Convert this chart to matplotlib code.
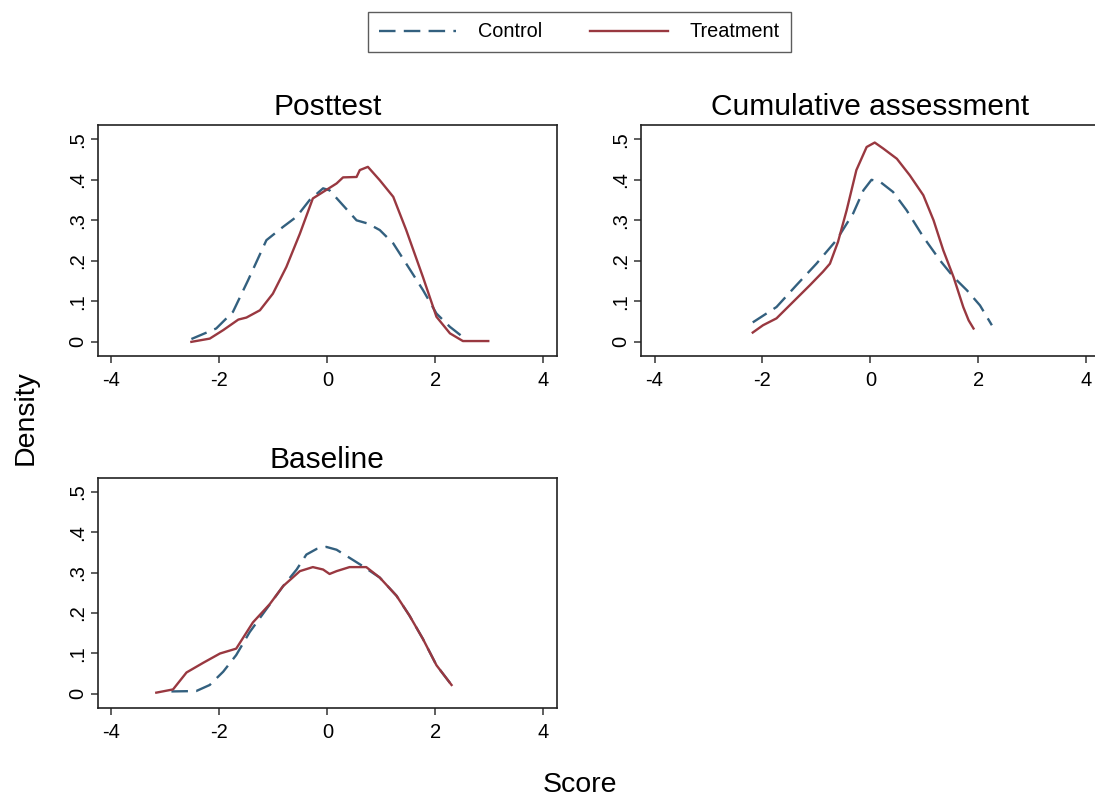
import matplotlib

matplotlib.use("Agg")
import matplotlib.pyplot as plt

plt.rcParams["font.family"] = ["Liberation Sans", "DejaVu Sans"]

# Posttest densities
post_ctrl_x = [-2.52, -2.06, -1.75, -1.47, -1.13, -0.82, -0.57, -0.33, -0.08, 0.04,
               0.29, 0.54, 0.75, 0.97, 1.22, 1.46, 1.77, 2.02, 2.27, 2.51]
post_ctrl_y = [0.007, 0.033, 0.074, 0.152, 0.251, 0.284, 0.309, 0.350, 0.379, 0.374,
               0.337, 0.300, 0.292, 0.276, 0.243, 0.193, 0.128, 0.070, 0.037, 0.012]
post_trt_x = [-2.52, -2.18, -1.93, -1.65, -1.50, -1.25, -1.01, -0.76, -0.51, -0.27,
              -0.08, 0.17, 0.29, 0.54, 0.60, 0.75, 0.97, 1.22, 1.46, 1.77, 2.02,
              2.27, 2.51, 2.98]
post_trt_y = [0.000, 0.008, 0.029, 0.055, 0.060, 0.078, 0.119, 0.185, 0.267, 0.354,
              0.370, 0.391, 0.406, 0.407, 0.424, 0.432, 0.399, 0.358, 0.276, 0.160,
              0.062, 0.021, 0.002, 0.002]

# Cumulative assessment densities
cum_ctrl_x = [-2.18, -1.74, -1.37, -1.00, -0.63, -0.32, -0.13, 0.02, 0.18, 0.42,
              0.67, 0.98, 1.29, 1.54, 1.79, 2.03, 2.25]
cum_ctrl_y = [0.048, 0.086, 0.140, 0.193, 0.251, 0.317, 0.374, 0.400, 0.395, 0.370,
              0.325, 0.259, 0.201, 0.160, 0.127, 0.090, 0.041]
cum_trt_x = [-2.18, -1.99, -1.74, -1.43, -1.12, -0.88, -0.75, -0.60, -0.44, -0.26,
             -0.07, 0.08, 0.24, 0.49, 0.73, 0.98, 1.17, 1.35, 1.54, 1.72, 1.82, 1.91]
cum_trt_y = [0.023, 0.041, 0.058, 0.099, 0.140, 0.173, 0.193, 0.247, 0.325, 0.424,
             0.481, 0.492, 0.477, 0.452, 0.411, 0.362, 0.300, 0.226, 0.160, 0.086,
             0.053, 0.033]

# Baseline densities
base_ctrl_x = [-2.89, -2.43, -2.18, -1.93, -1.69, -1.44, -1.13, -0.82, -0.57, -0.39,
               -0.20, -0.02, 0.17, 0.41, 0.66, 0.97, 1.28, 1.52, 1.77, 2.02, 2.30]
base_ctrl_y = [0.006, 0.007, 0.022, 0.055, 0.096, 0.153, 0.210, 0.267, 0.308, 0.345,
               0.359, 0.364, 0.357, 0.337, 0.316, 0.288, 0.243, 0.194, 0.136, 0.071,
               0.022]
base_trt_x = [-3.17, -2.86, -2.61, -2.30, -1.99, -1.69, -1.38, -1.07, -0.82, -0.51,
              -0.27, -0.08, 0.04, 0.17, 0.41, 0.72, 0.97, 1.28, 1.52, 1.77, 2.02, 2.30]
base_trt_y = [0.003, 0.011, 0.053, 0.077, 0.100, 0.112, 0.177, 0.222, 0.267, 0.304,
              0.314, 0.308, 0.297, 0.304, 0.314, 0.314, 0.288, 0.243, 0.194, 0.136,
              0.071, 0.022]

x_ticks = [-4, -2, 0, 2, 4]
y_ticks = [0, 0.1, 0.2, 0.3, 0.4, 0.5]
y_ticklabels = ["0", ".1", ".2", ".3", ".4", ".5"]

CTRL_COLOR = "#33607f"
TRT_COLOR = "#993840"

panels = [
    ("Posttest", [0.0895, 0.5544, 0.419, 0.289],
     post_ctrl_x, post_ctrl_y, post_trt_x, post_trt_y),
    ("Cumulative assessment", [0.5854, 0.5544, 0.419, 0.289],
     cum_ctrl_x, cum_ctrl_y, cum_trt_x, cum_trt_y),
    ("Baseline", [0.0895, 0.1139, 0.419, 0.288],
     base_ctrl_x, base_ctrl_y, base_trt_x, base_trt_y),
]

fig = plt.figure(figsize=(10.95, 7.99), dpi=100)

for title, pos, cx, cy, tx, ty in panels:
    ax = fig.add_axes(pos)
    l1, = ax.plot(cx, cy, color=CTRL_COLOR, lw=1.7, dashes=(7, 3.5), label="Control")
    l2, = ax.plot(tx, ty, color=TRT_COLOR, lw=1.7, label="Treatment")
    ax.set_xlim(-4.25, 4.25)
    ax.set_ylim(-0.035, 0.535)
    ax.set_xticks(x_ticks)
    ax.set_xticklabels([str(v) for v in x_ticks])
    ax.set_yticks(y_ticks)
    ax.set_yticklabels(y_ticklabels, rotation=90, va="center")
    ax.tick_params(axis="both", labelsize=14.5, length=5, width=1.1, color="#333333")
    ax.tick_params(axis="x", pad=6)
    ax.tick_params(axis="y", pad=3)
    for s in ax.spines.values():
        s.set_linewidth(1.2)
        s.set_color("#222222")
    ax.set_title(title, fontsize=21.5, pad=7)

fig.legend(handles=[l1, l2], labels=["Control", "Treatment"], loc="center",
           bbox_to_anchor=(0.529, 0.96), ncol=2, fontsize=14.3, frameon=True,
           fancybox=False, edgecolor="#333333", handlelength=3.9,
           handletextpad=1.1, columnspacing=2.4, borderpad=0.55)

fig.text(0.023, 0.477, "Density", rotation=90, fontsize=20.5, ha="center", va="center")
fig.text(0.53, 0.018, "Score", fontsize=20.5, ha="center", va="center")

fig.savefig("out.png", dpi=100)
